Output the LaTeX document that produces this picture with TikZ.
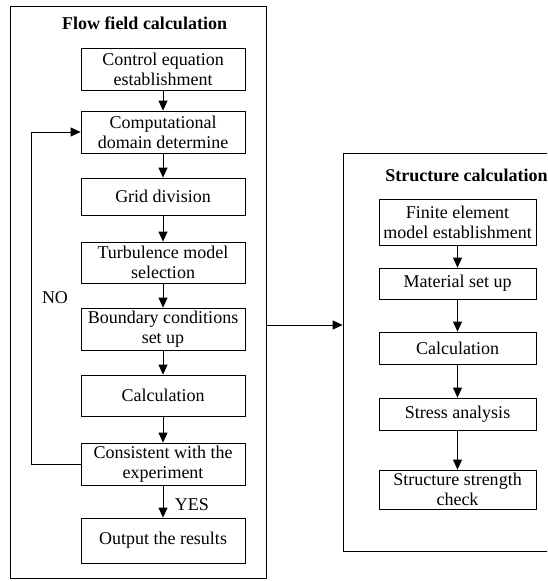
\documentclass[tikz,border=0pt]{standalone}
\usepackage{fontspec}
\setmainfont{Liberation Serif}
\usepackage{tikz}
\usetikzlibrary{arrows.meta}

\tikzset{
  stepbox/.style={draw, align=center, inner sep=0pt, minimum width=164pt, font=\fontsize{18}{20}\selectfont},
  rstepbox/.style={stepbox, minimum width=157pt},
  frame/.style={draw, inner sep=0pt},
  arr/.style={-{Triangle[length=10pt,width=9pt]}},
  lbl/.style={font=\fontsize{18}{20}\selectfont},
  ttl/.style={font=\fontsize{18}{20}\selectfont\bfseries}
}

\begin{document}
\begin{tikzpicture}[x=1pt,y=-1pt,line width=0.8pt]

\clip (0,0) rectangle (547,581);

\node[frame, minimum width=256pt, minimum height=572pt] (flow) at (138,292) {};
\node[frame, minimum width=217pt, minimum height=398pt] (struct) at (451.5,352) {};

\node[ttl] (flowtitle) at (144.5,23) {Flow field calculation};
\node[ttl, anchor=west, inner sep=0pt] (structtitle) at (385,175) {Structure calculation};

\node[stepbox, minimum height=42pt] (ctrl) at (163,69) {Control equation\\establishment};
\node[stepbox, minimum height=42pt] (domain) at (163,132) {Computational\\domain determine};
\node[stepbox, minimum height=37pt] (grid) at (163,196.5) {Grid division};
\node[stepbox, minimum height=41pt] (turb) at (163,262.5) {Turbulence model\\selection};
\node[stepbox, minimum height=42pt] (bound) at (163,329) {Boundary conditions\\set up};
\node[stepbox, minimum height=41pt] (calc) at (163,395.5) {Calculation};
\node[stepbox, minimum height=42pt] (check) at (163,464) {Consistent with the\\experiment};
\node[stepbox, minimum height=45pt] (output) at (163,540.5) {Output the results};

\node[rstepbox, minimum height=46pt] (fem) at (457.5,222) {Finite element\\model establishment};
\node[rstepbox, minimum height=31pt] (mat) at (457.5,283.5) {Material set up};
\node[rstepbox, minimum height=32pt] (scalc) at (457.5,348) {Calculation};
\node[rstepbox, minimum height=32pt] (stress) at (457.5,414) {Stress analysis};
\node[rstepbox, minimum height=39pt] (strength) at (457.5,489.5) {Structure strength\\check};

\node[lbl] (no) at (55,298) {NO};
\node[lbl] (yes) at (192,505) {YES};

\coordinate (nocorner) at (31,464);
\coordinate (link) at (300,325);

\draw[arr] (ctrl) -- (domain);
\draw[arr] (domain) -- (grid);
\draw[arr] (grid) -- (turb);
\draw[arr] (turb) -- (bound);
\draw[arr] (bound) -- (calc);
\draw[arr] (calc) -- (check);
\draw[arr] (check) -- (output);
\draw[arr] (check.west) -- (nocorner) |- (domain.west);

\draw[arr] (fem) -- (mat);
\draw[arr] (mat) -- (scalc);
\draw[arr] (scalc) -- (stress);
\draw[arr] (stress) -- (strength);

\draw[arr] (flow.east |- link) -- (struct.west |- link);

\end{tikzpicture}
\end{document}
